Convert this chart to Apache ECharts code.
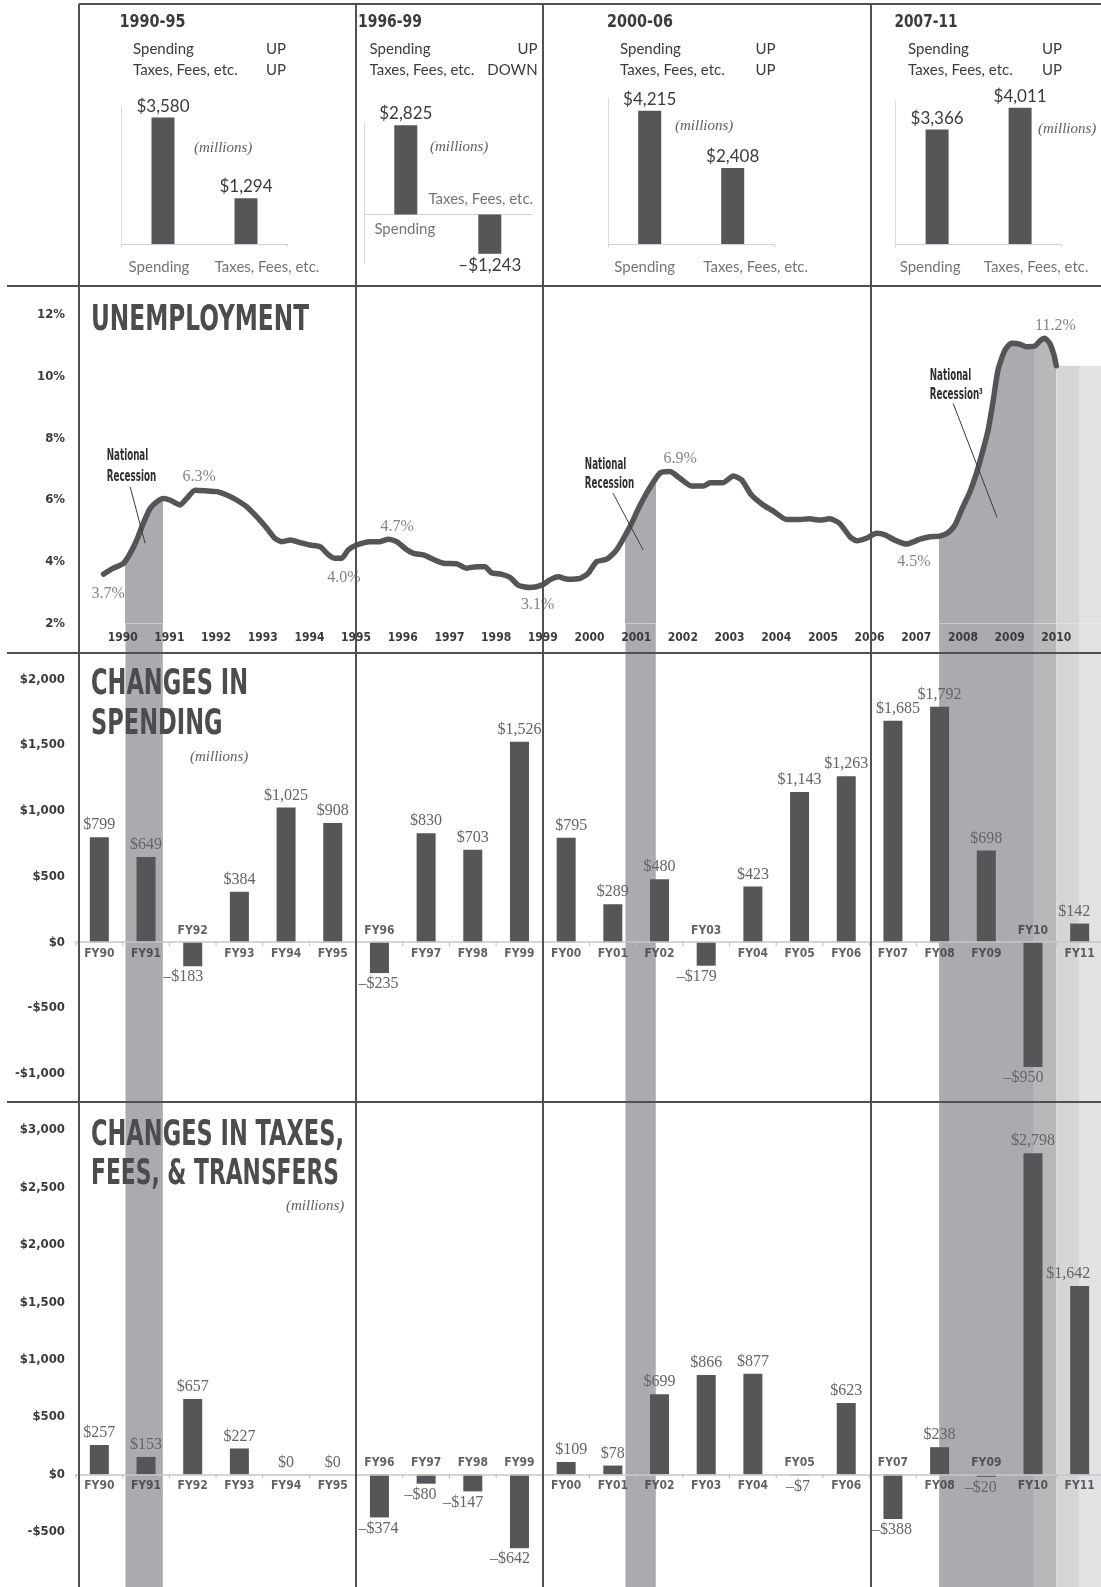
<!DOCTYPE html>
<html>
<head>
<meta charset="utf-8">
<title>Spending, Taxes and Unemployment</title>
<script src="https://cdn.jsdelivr.net/npm/echarts@6.0.0/dist/echarts.min.js"></script>
<style>
html,body{margin:0;padding:0;background:#ffffff;}
#chart{width:1101px;height:1587px;}
</style>
</head>
<body>
<div id="chart"></div>
<script>
// ======================= DATA =======================
const fiscalYears = ['FY90','FY91','FY92','FY93','FY94','FY95','FY96','FY97','FY98','FY99','FY00',
                     'FY01','FY02','FY03','FY04','FY05','FY06','FY07','FY08','FY09','FY10','FY11'];
const spendingChanges = [799, 649, -183, 384, 1025, 908, -235, 830, 703, 1526, 795,
                         289, 480, -179, 423, 1143, 1263, 1685, 1792, 698, -950, 142];
const taxChanges = [257, 153, 657, 227, 0, 0, -374, -80, -147, -642, 109,
                    78, 699, 866, 877, -7, 623, -388, 238, -20, 2798, 1642];

const periodNames = ['1990-95', '1996-99', '2000-06', '2007-11'];
const periodCategories = ['Spending', 'Taxes, Fees, etc.'];
const periodSpending = [3580, 2825, 4215, 3366];
const periodTaxes = [1294, -1243, 2408, 4011];
const periodSpendingDir = ['UP', 'UP', 'UP', 'UP'];
const periodTaxesDir = ['UP', 'DOWN', 'UP', 'UP'];

// unemployment rate (%) against time in years (year label = start of that year)
const unempTime = [
  1989.59,1989.80,1990.02,1990.16,1990.30,1990.44,1990.59,1990.73,1990.87,1991.01,
  1991.23,1991.37,1991.55,1991.77,1992.02,1992.23,1992.44,1992.66,1992.87,1993.09,
  1993.26,1993.41,1993.59,1993.80,1994.01,1994.23,1994.41,1994.55,1994.69,1994.83,
  1995.01,1995.30,1995.51,1995.69,1995.87,1996.05,1996.23,1996.44,1996.65,1996.87,
  1997.16,1997.37,1997.58,1997.76,1997.90,1998.12,1998.30,1998.47,1998.72,1998.98,
  1999.15,1999.33,1999.54,1999.80,1999.97,2000.15,2000.37,2000.58,2000.80,2000.92,
  2001.04,2001.26,2001.51,2001.72,2001.94,2002.19,2002.44,2002.58,2002.86,2003.08,
  2003.26,2003.47,2003.72,2003.93,2004.22,2004.51,2004.72,2004.93,2005.15,2005.36,
  2005.58,2005.72,2005.93,2006.15,2006.33,2006.54,2006.79,2007.08,2007.29,2007.50,
  2007.68,2007.83,2007.97,2008.15,2008.29,2008.43,2008.54,2008.65,2008.75,2008.90,
  2009.04,2009.22,2009.36,2009.54,2009.65,2009.75,2009.86,2009.95,2010.00
];
const unempRate = [
  3.60,3.79,3.95,4.27,4.70,5.24,5.73,5.94,6.05,6.00,
  5.84,6.05,6.32,6.30,6.27,6.16,6.00,5.78,5.46,5.08,
  4.76,4.65,4.70,4.62,4.54,4.49,4.22,4.11,4.11,4.38,
  4.54,4.65,4.65,4.73,4.65,4.43,4.27,4.22,4.08,3.95,
  3.93,3.79,3.84,3.84,3.64,3.59,3.49,3.24,3.16,3.24,
  3.41,3.51,3.43,3.46,3.62,4.00,4.08,4.38,4.95,5.30,
  5.70,6.32,6.87,6.92,6.70,6.45,6.45,6.56,6.56,6.78,
  6.65,6.16,5.84,5.65,5.37,5.37,5.39,5.35,5.39,5.24,
  4.81,4.68,4.76,4.92,4.87,4.70,4.57,4.73,4.81,4.83,
  4.94,5.19,5.68,6.27,6.87,7.62,8.27,9.24,10.21,10.86,
  11.08,11.05,10.97,10.99,11.16,11.24,11.08,10.70,10.35
];
const calloutTime = [1989.69, 1991.64, 1994.74, 1995.88, 1998.89, 2001.94, 2006.95, 2009.98];
const calloutRate = [3.7, 6.3, 4.0, 4.7, 3.1, 6.9, 4.5, 11.2];

const recessionStart = [1990.06, 2000.77, 2007.49];
const recessionEnd   = [1990.86, 2001.42, 2009.52];
const laterStart = [2009.52, 2010.00, 2010.50];
const laterEnd   = [2010.00, 2010.50, 2011.00];

// tick labels
const yearTicks = [1990,1991,1992,1993,1994,1995,1996,1997,1998,1999,2000,
                   2001,2002,2003,2004,2005,2006,2007,2008,2009,2010];
const rateTicks = [2, 4, 6, 8, 10, 12];
const spendingTicks = [-1000, -500, 0, 500, 1000, 1500, 2000];
const taxTicks = [-500, 0, 500, 1000, 1500, 2000, 2500, 3000];

// ======================= STYLE / LAYOUT =======================
function hasFont(name) {
  const ctx = document.createElement('canvas').getContext('2d');
  const s = 'FY90 UNEMPLOYMENT Recession wmWMil1';
  for (const base of ['monospace', 'serif']) {
    ctx.font = '40px ' + base; const a = ctx.measureText(s).width;
    ctx.font = '40px "' + name + '", ' + base; const b = ctx.measureText(s).width;
    if (Math.abs(a - b) > 0.5) return true;
  }
  return false;
}
const COND_NAME = ['Liberation Sans Narrow', 'DejaVu Sans Condensed', 'Noto Sans Condensed',
  'Roboto Condensed', 'Open Sans Condensed', 'Arial Narrow'].find(hasFont) || 'Liberation Sans';
const COND = '"' + COND_NAME + '", "Liberation Sans", sans-serif';
const LATO = '"Lato", "Noto Sans", sans-serif';
const SERIF = '"Liberation Serif", "DejaVu Serif", serif';

const C_BAR = '#555658', C_LINE = '#545557', C_FRAME = '#505052';
const C_TEXT = '#3a3b3d', C_VAL = '#646567', C_AXIS = '#c8c8c8', C_NOTE = '#2f2f31';
const C_REC = '#aaabae';
const C_LATER = ['#b7b8ba', '#d4d5d7', '#e1e2e3'];

const GX = 76, GW = 1027;
const U_TOP = 314.9, U_BOT = 623.4;
const S_TOP = 679.4, S_H = 394.2;
const T_TOP = 1130.1, T_H = 401.8;
const BAR_W = 19, MINI_BAR_W = 23;
const FY_FONT = 12, FY_WEIGHT = 'bold';
const MINI = [
  {left: 121.5, width: 166, top: 106, height: 138, min: 0, max: 3909, dist: 15, sp: -4, tx: 21},
  {left: 363.8, width: 168, top: 122, height: 141, min: -1535, max: 2927, dist: 7, sp: -1, tx: -9},
  {left: 608.2, width: 166, top: 98, height: 146, min: 0, max: 4620, dist: 15, sp: -5, tx: 23},
  {left: 895.6, width: 166, top: 101, height: 143, min: 0, max: 4206, dist: 15, sp: -7, tx: 16}
];
const CALLOUT_POS = ['bottom', 'top', 'bottom', 'top', 'bottom', 'top', 'bottom', 'top'];
const CALLOUT_DIST = [14, 5, 8, 5, 7, 5, 7, 5];

const periodFirstFY = periodNames.map(n => fiscalYears.indexOf('FY' + n.slice(2, 4)));
const money = v => (v < 0 ? '\u2013$' : '$') + Math.abs(v).toLocaleString('en-US');
const moneyAxis = v => (v < 0 ? '-$' : '$') + Math.abs(v).toLocaleString('en-US');

// ======================= OPTION =======================
const grids = [], xAxes = [], yAxes = [], series = [];
const gridBase = {containLabel: false, outerBoundsMode: 'none'};
const axisLabelFont = {fontFamily: COND, fontSize: 13, fontWeight: FY_WEIGHT, color: C_TEXT};

// grid 0 : unemployment
grids.push(Object.assign({left: GX, width: GW, top: U_TOP, height: U_BOT - U_TOP}, gridBase));
xAxes.push({type: 'value', gridIndex: 0, min: yearTicks[0] - 1, max: yearTicks[yearTicks.length - 1] + 1, interval: 1,
  axisLine: {show: false}, axisTick: {show: false}, splitLine: {show: false}, z: 6,
  axisLabel: {margin: 8, fontFamily: COND, fontSize: FY_FONT, fontWeight: FY_WEIGHT, color: C_TEXT,
    showMinLabel: true, showMaxLabel: true,
    formatter: v => yearTicks.indexOf(v) >= 0 ? String(v) : ''}});
yAxes.push({type: 'value', gridIndex: 0, min: rateTicks[0], max: rateTicks[rateTicks.length - 1],
  interval: rateTicks[1] - rateTicks[0],
  axisLine: {show: false}, axisTick: {show: false}, splitLine: {show: false},
  axisLabel: Object.assign({margin: 11, formatter: '{value}%'}, axisLabelFont)});

// grid 1 : background bands below the unemployment panel
grids.push(Object.assign({left: GX, width: GW, top: U_BOT, bottom: 0}, gridBase));
xAxes.push({type: 'value', gridIndex: 1, min: yearTicks[0] - 1, max: yearTicks[yearTicks.length - 1] + 1, show: false});
yAxes.push({type: 'value', gridIndex: 1, min: 0, max: 1, show: false});

// grid 2 : spending ; grid 3 : taxes
grids.push(Object.assign({left: GX, width: GW, top: S_TOP, height: S_H}, gridBase));
grids.push(Object.assign({left: GX, width: GW, top: T_TOP, height: T_H}, gridBase));
[spendingTicks, taxTicks].forEach((ticks, k) => {
  const gi = 2 + k;
  xAxes.push({type: 'category', gridIndex: gi, data: fiscalYears, boundaryGap: true, z: 4,
    axisLine: {onZero: true, lineStyle: {color: C_AXIS, width: 1.5}},
    axisTick: {show: false}, axisLabel: {show: false}});
  yAxes.push({type: 'value', gridIndex: gi, min: ticks[0], max: ticks[ticks.length - 1], interval: ticks[1] - ticks[0],
    axisLine: {show: false}, axisTick: {show: false}, splitLine: {show: false},
    axisLabel: Object.assign({margin: 11, formatter: moneyAxis}, axisLabelFont)});
});

// mini charts (grids 4..7)
MINI.forEach((m, k) => {
  const gi = 4 + k;
  grids.push(Object.assign({left: m.left, width: m.width, top: m.top, height: m.height}, gridBase));
  xAxes.push({type: 'category', gridIndex: gi, data: periodCategories, boundaryGap: true,
    axisLine: {onZero: true, lineStyle: {color: '#d2d2d2', width: 1}},
    axisTick: {show: m.min === 0, length: 3, lineStyle: {color: '#d2d2d2'}},
    axisLabel: {show: false}});
  yAxes.push({type: 'value', gridIndex: gi, min: m.min, max: m.max,
    axisLine: {show: true, lineStyle: {color: '#dcdcdc'}}, axisTick: {show: false},
    axisLabel: {show: false}, splitLine: {show: false}});
});

// ---------- series ----------
const bandData = recessionStart.map((s, i) => [s, recessionEnd[i], 0])
  .concat(laterStart.map((s, i) => [s, laterEnd[i], i + 1]));
const bandColor = c => c === 0 ? C_REC : C_LATER[c - 1];
series.push({type: 'custom', name: 'bands', xAxisIndex: 1, yAxisIndex: 1, z: 0, silent: true, clip: false,
  encode: {x: [0, 1]}, data: bandData,
  renderItem: (params, api) => {
    const p0 = api.coord([api.value(0), 1]);
    const p1 = api.coord([api.value(1), 0]);
    return {type: 'rect', shape: {x: p0[0], y: p0[1], width: p1[0] - p0[0], height: p1[1] - p0[1]},
      style: {fill: bandColor(api.value(2))}};
  }});

const unempPairs = unempTime.map((t, i) => [t, unempRate[i]]);
const lastTime = unempTime[unempTime.length - 1];
const lastRate = unempRate[unempRate.length - 1];

const areaIdx = series.length;
series.push({type: 'line', name: 'recessionArea', xAxisIndex: 0, yAxisIndex: 0, data: unempPairs,
  showSymbol: false, symbol: 'none', silent: true, z: 1, smooth: 0.2,
  lineStyle: {width: 0, opacity: 0}, areaStyle: {opacity: 1}});

const afterLine = laterStart.map((s, i) => [s, laterEnd[i], i + 1, lastRate]).filter(d => d[0] >= lastTime);
series.push({type: 'custom', name: 'laterBands', xAxisIndex: 0, yAxisIndex: 0, z: 1, silent: true, clip: false,
  encode: {x: [0, 1]}, data: afterLine,
  renderItem: (params, api) => {
    const p0 = api.coord([api.value(0), api.value(3)]);
    const p1 = api.coord([api.value(1), rateTicks[0]]);
    return {type: 'rect', shape: {x: p0[0], y: p0[1], width: p1[0] - p0[0], height: p1[1] - p0[1]},
      style: {fill: bandColor(api.value(2))}};
  }});

series.push({type: 'line', name: 'Unemployment', xAxisIndex: 0, yAxisIndex: 0, data: unempPairs,
  showSymbol: false, symbol: 'none', silent: true, z: 4, smooth: 0.2,
  lineStyle: {width: 5.5, color: C_LINE, cap: 'round', join: 'round'}});

series.push({type: 'scatter', name: 'callouts', xAxisIndex: 0, yAxisIndex: 0, z: 5, silent: true,
  symbolSize: 1, itemStyle: {color: 'rgba(0,0,0,0)'},
  data: calloutTime.map((t, i) => ({value: [t, calloutRate[i]],
    label: {position: CALLOUT_POS[i], distance: CALLOUT_DIST[i]}})),
  label: {show: true, fontFamily: SERIF, fontSize: 16, color: C_VAL,
    formatter: p => p.value[1].toFixed(1) + '%'}});

function barLabel(v, i) {
  const first = i > 0 && periodFirstFY.indexOf(i) >= 0;
  const last = i === fiscalYears.length - 1;
  if (v >= 0) {
    if (last) return {position: 'top', align: 'right', offset: [BAR_W / 2 + 1, 0], distance: 4};
    if (first) return {position: 'top', offset: [5, 0], distance: 4};
    return {position: 'top', distance: 4};
  }
  if (first) return {position: 'bottom', align: 'left', offset: [-21, 0], distance: 3};
  return {position: 'bottom', align: 'right', offset: [BAR_W / 2 + 1, 0], distance: 3};
}
[spendingChanges, taxChanges].forEach((vals, k) => {
  const ai = 2 + k;
  series.push({type: 'bar', xAxisIndex: ai, yAxisIndex: ai, barWidth: BAR_W, clip: false, z: 2, silent: true,
    itemStyle: {color: C_BAR},
    data: vals.map((v, i) => ({value: v, label: barLabel(v, i)})),
    label: {show: true, fontFamily: SERIF, fontSize: 16, color: C_VAL, formatter: p => money(p.value)}});
  // category labels on the zero line: below for gains, above for losses
  series.push({type: 'scatter', xAxisIndex: ai, yAxisIndex: ai, z: 6, silent: true,
    symbolSize: 1, itemStyle: {color: 'rgba(0,0,0,0)'},
    data: vals.map((v, i) => ({value: [i, 0],
      label: {position: v >= 0 ? 'bottom' : 'top', distance: 5}})),
    label: {show: true, fontFamily: COND, fontSize: FY_FONT, fontWeight: FY_WEIGHT, color: C_TEXT,
      formatter: p => fiscalYears[p.value[0]]}});
  // small tick marks at category boundaries on the zero line
  series.push({type: 'custom', xAxisIndex: ai, yAxisIndex: ai, z: 5, silent: true, clip: false,
    data: vals.map((v, i) => [i, 0]),
    renderItem: (params, api) => {
      const c = api.coord([api.value(0), 0]);
      const bw = api.size([1, 0])[0];
      const xs = [c[0] - bw / 2];
      if (params.dataIndex === fiscalYears.length - 1) xs.push(c[0] + bw / 2);
      return {type: 'group', children: xs.map(x => ({type: 'line',
        shape: {x1: x, y1: c[1], x2: x, y2: c[1] + 4}, style: {stroke: '#bdbdbd', lineWidth: 1}}))};
    }});
});

MINI.forEach((m, k) => {
  const ai = 4 + k;
  const vals = [periodSpending[k], periodTaxes[k]];
  series.push({type: 'bar', xAxisIndex: ai, yAxisIndex: ai, barWidth: MINI_BAR_W, z: 2, silent: true,
    itemStyle: {color: C_BAR},
    data: vals.map(v => ({value: v, label: {position: v >= 0 ? 'top' : 'bottom', distance: 3}})),
    label: {show: true, fontFamily: LATO, fontSize: 17, color: '#3a3b3d', formatter: p => money(p.value)}});
  series.push({type: 'scatter', xAxisIndex: ai, yAxisIndex: ai, z: 3, silent: true,
    symbolSize: 1, itemStyle: {color: 'rgba(0,0,0,0)'},
    data: vals.map((v, i) => ({value: [i, 0],
      label: {position: v >= 0 ? 'bottom' : 'top', distance: m.dist, offset: [i === 0 ? m.sp : m.tx, 0]}})),
    label: {show: true, fontFamily: LATO, fontSize: 15, color: '#505153',
      formatter: p => periodCategories[p.value[0]]}});
});

// visual map: colour the area under the unemployment line only inside the shaded periods
const pieces = recessionStart.map((s, i) => ({gte: s, lt: recessionEnd[i], color: C_REC}))
  .concat(laterStart.map((s, i) => ({gte: s, lt: laterEnd[i], color: C_LATER[i]})).filter(p => p.gte < lastTime));

const option = {
  animation: false,
  backgroundColor: '#ffffff',
  textStyle: {fontFamily: LATO},
  grid: grids, xAxis: xAxes, yAxis: yAxes, series: series,
  visualMap: [{type: 'piecewise', show: false, dimension: 0, seriesIndex: areaIdx,
    pieces: pieces, outOfRange: {color: 'rgba(0,0,0,0)'}}]
};

const chart = echarts.init(document.getElementById('chart'), null, {renderer: 'canvas'});
chart.setOption(option);

// ======================= TEXT / FRAME GRAPHICS =======================
const mctx = document.createElement('canvas').getContext('2d');
function measure(text, font) { mctx.font = font; return mctx.measureText(text).width; }
function gText(text, x, y, o) {
  const sx = o.width ? o.width / measure(text, o.font) : (o.scale || 1);
  const al = o.align || 'left';
  return {type: 'text', x: x, y: y, scaleX: sx, z: o.z || 60, silent: true,
    style: {text: text, font: o.font, fill: o.fill || C_TEXT, align: al, textAlign: al,
      verticalAlign: 'middle', textVerticalAlign: 'middle'}};
}
const G = [];
const TITLE_FONT = 'bold 36px ' + COND;
[['UNEMPLOYMENT', 91, 321, 218], ['CHANGES IN', 91, 684.5, 157], ['SPENDING', 91, 724.5, 131.5],
 ['CHANGES IN TAXES,', 91, 1135.5, 253], ['FEES, & TRANSFERS', 91, 1175, 248]].forEach(t => {
  G.push(gText(t[0], t[1], t[2], {font: TITLE_FONT, fill: '#4b4c4e', width: t[3], z: 50}));
});
const ITAL = 'italic 15px ' + SERIF;
[[194, 148], [430, 147], [675, 126.5], [1038, 129.5], [190, 757], [286, 1206]].forEach(p => {
  G.push(gText('(millions)', p[0], p[1], {font: ITAL, fill: '#606163', z: 50}));
});

// period headers
const HEAD_FONT = 'bold 18px ' + COND;
const ROW_FONT = '15px ' + LATO;
const HEAD = [
  {tx: 119.4, tw: 66, rx: 133, dx: 266, dAlign: 'left'},
  {tx: 358, tw: 64, rx: 369.6, dx: 537.6, dAlign: 'right'},
  {tx: 607, tw: 66, rx: 620, dx: 755.5, dAlign: 'left'},
  {tx: 894.5, tw: 63, rx: 908, dx: 1042, dAlign: 'left'}
];
HEAD.forEach((h, k) => {
  G.push(gText(periodNames[k], h.tx, 22.3, {font: HEAD_FONT, fill: '#3a3b3d', width: h.tw}));
  G.push(gText(periodCategories[0], h.rx, 49.6, {font: ROW_FONT, fill: C_TEXT}));
  G.push(gText(periodCategories[1], h.rx, 69.8, {font: ROW_FONT, fill: C_TEXT}));
  G.push(gText(periodSpendingDir[k], h.dx, 49.6, {font: ROW_FONT, fill: C_TEXT, align: h.dAlign}));
  G.push(gText(periodTaxesDir[k], h.dx, 69.8, {font: ROW_FONT, fill: C_TEXT, align: h.dAlign}));
});

// recession notes (positioned in data coordinates of the unemployment panel)
const NOTES = [
  {t: 1989.66, r: [7.41, 6.73], lines: ['National', 'Recession'], from: [1990.16, 6.43], to: [1990.48, 4.60]},
  {t: 1999.90, r: [7.13, 6.52], lines: ['National', 'Recession'], from: [2000.50, 6.23], to: [2001.15, 4.38]},
  {t: 2007.29, r: [10.02, 9.41], lines: ['National', 'Recession\u00B3'], from: [2007.79, 9.13], to: [2008.73, 5.44]}
];
const NOTE_FONT = 'bold 15px ' + COND;
const noteScale = 49.3 / measure('Recession', NOTE_FONT);
NOTES.forEach(n => {
  n.lines.forEach((line, j) => {
    const p = chart.convertToPixel({gridIndex: 0}, [n.t, n.r[j]]);
    G.push(gText(line, p[0], p[1], {font: NOTE_FONT, fill: C_NOTE, scale: noteScale, z: 55}));
  });
  const a = chart.convertToPixel({gridIndex: 0}, n.from);
  const b = chart.convertToPixel({gridIndex: 0}, n.to);
  G.push({type: 'line', z: 55, silent: true, shape: {x1: a[0], y1: a[1], x2: b[0], y2: b[1]},
    style: {stroke: '#3a3a3c', lineWidth: 1}});
});

// frame lines
const FRAME_V = [79, 356, 543, 871];
const FRAME_H = [[4, 79], [286, 7], [653, 7], [1102, 7]];
FRAME_V.forEach(x => G.push({type: 'line', z: 100, silent: true, shape: {x1: x, y1: 4, x2: x, y2: 1587},
  style: {stroke: C_FRAME, lineWidth: 2}}));
FRAME_H.forEach(h => G.push({type: 'line', z: 100, silent: true, shape: {x1: h[1], y1: h[0], x2: 1101, y2: h[0]},
  style: {stroke: C_FRAME, lineWidth: 2}}));

chart.setOption({graphic: {elements: G}});
</script>
</body>
</html>
